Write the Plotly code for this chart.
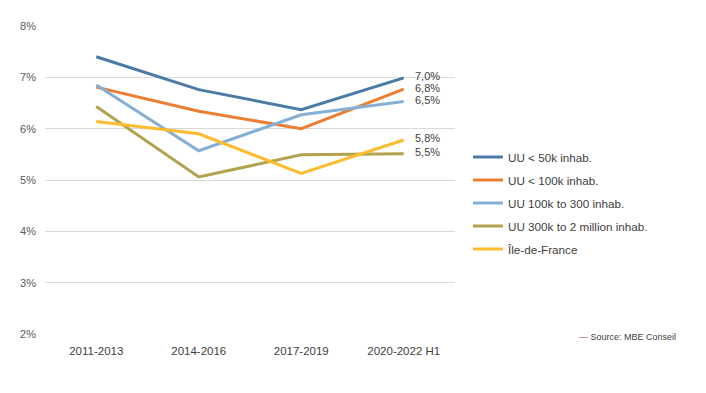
import plotly.graph_objects as go

categories = ["2011-2013", "2014-2016", "2017-2019", "2020-2022 H1"]
series_names = ["UU < 50k inhab.", "UU < 100k inhab.", "UU 100k to 300 inhab.",
                "UU 300k to 2 million inhab.", "Île-de-France"]
uu_50k = [7.40, 6.76, 6.37, 6.99]
uu_100k = [6.81, 6.34, 6.00, 6.77]
uu_100_300k = [6.85, 5.57, 6.27, 6.53]
uu_300k_2m = [6.43, 5.06, 5.49, 5.51]
idf = [6.14, 5.90, 5.13, 5.78]
end_labels = ["7,0%", "6,8%", "6,5%", "5,5%", "5,8%"]
y_ticks = [2, 3, 4, 5, 6, 7, 8]
y_tick_labels = ["2%", "3%", "4%", "5%", "6%", "7%", "8%"]
colors = ["#4A7BA7", "#ED7D31", "#85AFD4", "#B3A24D", "#FBBC2D"]
source_text = "Source: MBE Conseil"

all_series = [uu_50k, uu_100k, uu_100_300k, uu_300k_2m, idf]

# page has an 8px body margin
OFF = 8
W, H = 690, 377
L, R, T, B = 43 - OFF, (W + OFF) - 455, 22 - OFF, (H + OFF) - 334
plot_w = W - L - R
plot_h = H - T - B


def px_x(x):
    return (x - OFF - L) / plot_w


def px_y(y):
    return ((H + OFF - B) - y) / plot_h


FONT = "Liberation Sans, Arial, sans-serif"

fig = go.Figure()
for i, (name, vals) in enumerate(zip(series_names, all_series)):
    fig.add_trace(go.Scatter(
        x=categories, y=vals, mode="lines", name=name,
        line=dict(color=colors[i], width=3),
        legendgroup=f"g{i}",
        hoverinfo="skip",
    ))

for i, vals in enumerate(all_series):
    fig.add_annotation(
        x=categories[-1], y=vals[-1], text=end_labels[i],
        xref="x", yref="y", showarrow=False, xanchor="left",
        xshift=9, yshift=1.5,
        font=dict(family=FONT, size=11, color="#404040"),
    )

fig.add_annotation(
    x=px_x(679), y=px_y(337), xref="paper", yref="paper",
    text="<span style='color:#A0303A'>—</span> " + source_text,
    showarrow=False, xanchor="right", yanchor="middle",
    font=dict(family=FONT, size=9, color="#404040"),
)

fig.update_layout(
    width=W, height=H,
    margin=dict(l=L, r=R, t=T, b=B),
    paper_bgcolor="white", plot_bgcolor="white",
    font=dict(family=FONT, size=11, color="#595959"),
    showlegend=True,
    legend=dict(
        x=px_x(468), y=px_y(140), xanchor="left", yanchor="top",
        font=dict(size=11.7, color="#404040"),
        tracegroupgap=4, itemwidth=30,
        bgcolor="rgba(0,0,0,0)",
    ),
    xaxis=dict(
        type="category", showgrid=False, showline=False, zeroline=False,
        ticks="", tickfont=dict(size=11.5, color="#404040"),
        range=[-0.5, 3.5], ticklabelstandoff=8,
    ),
    yaxis=dict(
        range=[2, 8], tickvals=y_ticks, ticktext=y_tick_labels,
        showgrid=True, gridcolor="#D9D9D9", gridwidth=1, zeroline=False,
        showline=False, ticks="", tickfont=dict(size=11, color="#595959"),
        ticklabelstandoff=8,
    ),
)

fig.write_html("out.html")
